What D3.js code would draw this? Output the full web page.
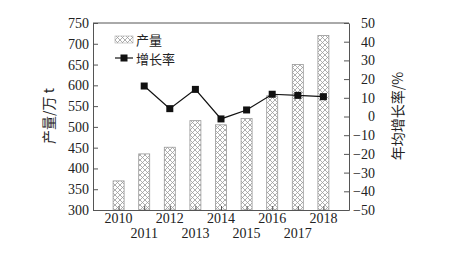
<!DOCTYPE html>
<html>
<head>
<meta charset="utf-8">
<script src="https://cdn.jsdelivr.net/npm/d3@7"></script>
<style>
body { margin: 0; background: #fff; }
svg text { font-family: "Liberation Serif", "Times New Roman", serif; fill: #222; }
.cjk { font-family: "Noto Sans CJK SC", sans-serif; }
</style>
</head>
<body>
<script>
var years = [2010, 2011, 2012, 2013, 2014, 2015, 2016, 2017, 2018];
var output = [370, 435, 451, 515, 505, 520, 575, 650, 720];
var growthYears = [2011, 2012, 2013, 2014, 2015, 2016, 2017, 2018];
var growth = [16.3, 4.2, 14.5, -1.3, 3.5, 11.9, 11.3, 10.6];
var leftTicks = [300, 350, 400, 450, 500, 550, 600, 650, 700, 750];
var rightTicks = [-50, -40, -30, -20, -10, 0, 10, 20, 30, 40, 50];

var W = 450, H = 259,
	L = 93, R = 349, T = 23, B = 210;

var svg = d3.select('body').append('svg').attr('width', W).attr('height', H);

var defs = svg.append('defs');
var pat = defs.append('pattern').attr('id', 'hatch').attr('patternUnits', 'userSpaceOnUse')
	.attr('width', 5).attr('height', 5);
pat.append('rect').attr('width', 5).attr('height', 5).attr('fill', '#fff');
pat.append('path').attr('d', 'M0,0L5,5M5,0L0,5').attr('stroke', '#9a9a9a').attr('stroke-width', 0.8);

var x = d3.scaleLinear().domain([2009, 2019]).range([L, R]);
var y = d3.scaleLinear().domain([300, 750]).range([B, T]);
var y2 = d3.scaleLinear().domain([-50, 50]).range([B, T]);

// bars
var bw = 11;
svg.append('g').selectAll('rect').data(years).enter().append('rect')
	.attr('x', function(d) { return x(d) - bw / 2; })
	.attr('y', function(d, i) { return y(output[i]); })
	.attr('width', bw)
	.attr('height', function(d, i) { return B - y(output[i]); })
	.attr('fill', 'url(#hatch)')
	.attr('stroke', '#999').attr('stroke-width', 0.8);

// frame top
svg.append('line').attr('x1', L).attr('x2', R).attr('y1', T).attr('y2', T).attr('stroke', '#555');

// axes
var gl = svg.append('g').attr('transform', 'translate(' + L + ',0)')
	.call(d3.axisLeft(y).tickValues(leftTicks).tickSizeInner(-5).tickSizeOuter(0).tickPadding(4));
var gr = svg.append('g').attr('transform', 'translate(' + R + ',0)')
	.call(d3.axisRight(y2).tickValues(rightTicks).tickSizeInner(-5).tickSizeOuter(0).tickPadding(0).tickFormat(function(d) { return d < 0 ? '\u2212' + (-d) : d; }));
var gb = svg.append('g').attr('transform', 'translate(0,' + B + ')')
	.call(d3.axisBottom(x).tickValues(years).tickSizeInner(-4).tickSizeOuter(0).tickFormat(''));

[gl, gr, gb].forEach(function(g) {
	g.select('.domain').attr('stroke', '#555');
	g.selectAll('.tick line').attr('stroke', '#555');
	g.selectAll('text').attr('font-size', 14).attr('fill', '#222')
		.style('font-family', '"Liberation Serif", serif');
});
gr.selectAll('text').attr('text-anchor', 'end').attr('x', 26);

// x labels in two rows
svg.append('g').selectAll('text').data(years).enter().append('text')
	.attr('x', function(d) { return x(d); })
	.attr('y', function(d) { return d % 2 === 0 ? 223 : 238; })
	.attr('text-anchor', 'middle').attr('font-size', 14)
	.text(function(d) { return d; });

// growth line
var line = d3.line().x(function(d) { return x(d); }).y(function(d, i) { return y2(growth[i]); });
svg.append('path').datum(growthYears).attr('d', line)
	.attr('fill', 'none').attr('stroke', '#111').attr('stroke-width', 1.2);
svg.append('g').selectAll('rect').data(growthYears).enter().append('rect')
	.attr('x', function(d) { return x(d) - 3.5; })
	.attr('y', function(d, i) { return y2(growth[i]) - 3.5; })
	.attr('width', 7).attr('height', 7).attr('fill', '#111');

// legend
var lg = svg.append('g');
lg.append('rect').attr('x', 115).attr('y', 36).attr('width', 18).attr('height', 7)
	.attr('fill', 'url(#hatch)').attr('stroke', '#aaa').attr('stroke-width', 0.6);
lg.append('text').attr('class', 'cjk').attr('x', 136).attr('y', 44.5).attr('font-size', 13).text('产量');
lg.append('line').attr('x1', 115).attr('x2', 133).attr('y1', 58).attr('y2', 58).attr('stroke', '#111').attr('stroke-width', 1.2);
lg.append('rect').attr('x', 120.5).attr('y', 54.5).attr('width', 7).attr('height', 7).attr('fill', '#111');
lg.append('text').attr('class', 'cjk').attr('x', 136).attr('y', 63.5).attr('font-size', 13).text('增长率');

// axis titles
svg.append('text').attr('class', 'cjk').attr('font-size', 14).attr('text-anchor', 'middle')
	.attr('transform', 'translate(54,116) rotate(-90)').text('产量/万 t');
svg.append('text').attr('class', 'cjk').attr('font-size', 14).attr('text-anchor', 'middle')
	.attr('transform', 'translate(403,116) rotate(-90)').text('年均增长率/%');
</script>
</body>
</html>
